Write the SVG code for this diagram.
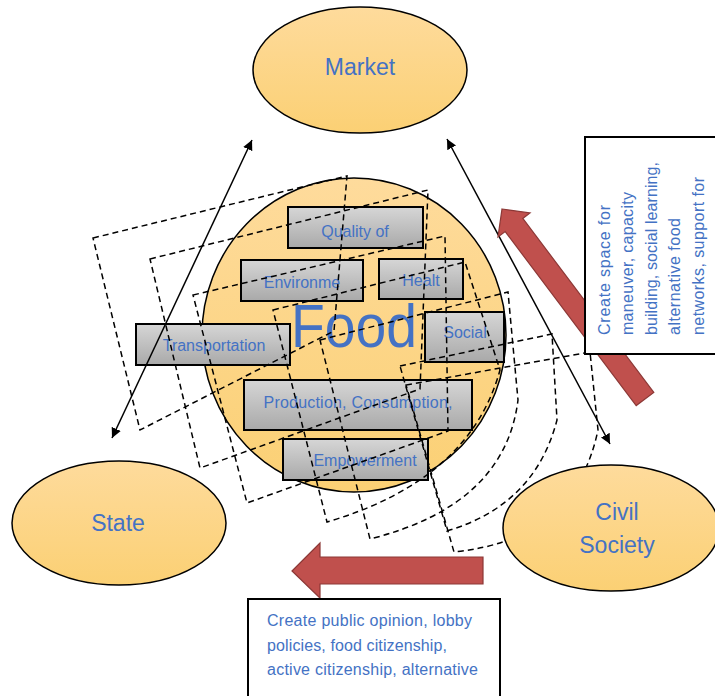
<svg xmlns="http://www.w3.org/2000/svg" width="715" height="696" viewBox="0 0 715 696">
<defs>
<linearGradient id="og" x1="0" y1="0" x2="0" y2="1"><stop offset="0" stop-color="#fedb9c"/><stop offset="1" stop-color="#fbd074"/></linearGradient>
<linearGradient id="gg" x1="0" y1="0" x2="0" y2="1"><stop offset="0" stop-color="#d6d6d6"/><stop offset="1" stop-color="#a9a9a9"/></linearGradient>
<marker id="ah" viewBox="0 0 10 10" refX="10" refY="5" markerWidth="10" markerHeight="10" orient="auto-start-reverse" markerUnits="userSpaceOnUse"><path d="M0,0 L10,5 L0,10 Z" fill="#000"/></marker>
</defs>
<style>
.ell{fill:url(#og);stroke:#000;stroke-width:1.5}
.box{fill:url(#gg);stroke:#000;stroke-width:2}
.t{font-family:"Liberation Sans",Arial,sans-serif;fill:#4472c4}
.dash{fill:none;stroke:#000;stroke-width:1.5;stroke-dasharray:6,4}
.red{fill:#c0504d;stroke:#8c3836;stroke-width:1.2}
.line{stroke:#000;stroke-width:1.5;fill:none}
.tb{fill:#fff;stroke:#000;stroke-width:2}
</style>
<rect width="715" height="696" fill="#fff"/>

<g id="food">
<ellipse class="ell" cx="354" cy="335" rx="152" ry="157"/>
<text class="t" x="354" y="347" font-size="62" text-anchor="middle" textLength="126" lengthAdjust="spacingAndGlyphs">Food</text>
</g>

<g id="quality"><rect class="box" x="288" y="207" width="135" height="41"/><text class="t" x="355" y="237" font-size="16" text-anchor="middle">Quality of</text></g>
<g id="environment"><rect class="box" x="241" y="260" width="122" height="41"/><text class="t" x="302" y="288" font-size="16" text-anchor="middle">Environme</text></g>
<g id="health"><rect class="box" x="379" y="259" width="84" height="40"/><text class="t" x="421" y="286" font-size="16" text-anchor="middle">Healt</text></g>
<g id="social"><rect class="box" x="425" y="312" width="79" height="50"/><text class="t" x="465" y="338" font-size="16" text-anchor="middle">Social</text></g>
<g id="transportation"><rect class="box" x="136" y="324" width="154" height="41"/><text class="t" x="214" y="351" font-size="16" text-anchor="middle">Transportation</text></g>
<g id="production"><rect class="box" x="244" y="380" width="228" height="50"/><text class="t" x="358" y="408" font-size="16" text-anchor="middle" textLength="189" lengthAdjust="spacing">Production, Consumption,</text></g>
<g id="empowerment"><rect class="box" x="283" y="439" width="145" height="41"/><text class="t" x="365" y="466" font-size="16" text-anchor="middle">Empowerment</text></g>

<g id="dashed">
<path class="dash" d="M93,238 L347,176 L334,331 L140,430 Z"/>
<path class="dash" d="M150,259 L428,190 L420,389 L200,468 Z"/>
<path class="dash" d="M193,295 L445,236 L448,431 L247,503 Z"/>
<path class="dash" d="M273,310 L465,262 L500,370 Q470,480 327,522 Z"/>
<path class="dash" d="M320,340 L508,292 L518,400 Q505,505 370,539 Z"/>
<path class="dash" d="M400,366 L552,334 L557,420 Q535,505 447,531 Z"/>
<path class="dash" d="M406,385 L590,352 L598,430 Q575,540 454,552 Z"/>
</g>

<g id="market"><ellipse class="ell" cx="360" cy="70" rx="107" ry="63"/><text class="t" x="360" y="75" font-size="23" text-anchor="middle">Market</text></g>
<g id="state"><ellipse class="ell" cx="119" cy="523" rx="107" ry="62"/><text class="t" x="118" y="531" font-size="23" text-anchor="middle">State</text></g>
<g id="civil"><ellipse class="ell" cx="611" cy="528" rx="108" ry="63"/><text class="t" x="617" y="520" font-size="23" text-anchor="middle">Civil</text><text class="t" x="617" y="553" font-size="23" text-anchor="middle">Society</text></g>

<g id="connectors">
<line class="line" x1="252" y1="140" x2="112" y2="438" marker-start="url(#ah)" marker-end="url(#ah)"/>
<line class="line" x1="447" y1="139" x2="610" y2="444" marker-start="url(#ah)" marker-end="url(#ah)"/>
<polygon class="red" points="502,209 530,213 522.8,218.4 653.8,392.4 636.2,405.6 505.2,231.6 498,237"/>
<polygon class="red" points="292,571 320,543 320,557 483,557 483,584 320,584 320,598"/>
</g>

<g id="note-right">
<rect class="tb" x="585" y="137" width="135" height="217"/>
<g class="t" font-size="16">
<text transform="translate(610,335) rotate(-90)" textLength="130" lengthAdjust="spacing">Create space for</text>
<text transform="translate(633,335) rotate(-90)" textLength="143" lengthAdjust="spacing">maneuver, capacity</text>
<text transform="translate(657,335) rotate(-90)" textLength="173" lengthAdjust="spacing">building, social learning,</text>
<text transform="translate(680,335) rotate(-90)" textLength="117" lengthAdjust="spacing">alternative food</text>
<text transform="translate(704,335) rotate(-90)" textLength="158" lengthAdjust="spacing">networks, support for</text>
</g>
</g>

<g id="note-bottom">
<rect class="tb" x="248" y="599" width="252" height="100"/>
<g class="t" font-size="16">
<text x="267" y="626" textLength="205" lengthAdjust="spacing">Create public opinion, lobby</text>
<text x="267" y="651" textLength="180" lengthAdjust="spacing">policies, food citizenship,</text>
<text x="267" y="675" textLength="211" lengthAdjust="spacing">active citizenship, alternative</text>
</g>
</g>
</svg>
